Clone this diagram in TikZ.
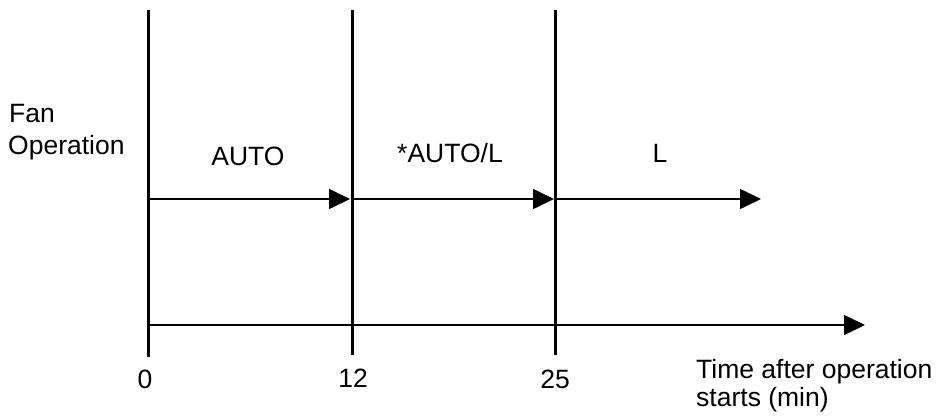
\documentclass[tikz,border=0pt]{standalone}
\usepackage{fontspec}
\setmainfont{Liberation Sans}
\usetikzlibrary{arrows.meta}
\begin{document}
\begin{tikzpicture}[x=1pt,y=-1pt,
  vline/.style={line width=3pt},
  harrow/.style={line width=1.6pt,-{Triangle[length=21pt,width=20pt]}},
  lbl/.style={font=\fontsize{26.5}{30}\selectfont,inner sep=0pt}]
\useasboundingbox (0,0) rectangle (937,416);
% vertical lines
\coordinate (v0t) at (148,10); \coordinate (v0b) at (148,357);
\coordinate (v1t) at (352,10); \coordinate (v1b) at (352,355);
\coordinate (v2t) at (555,10); \coordinate (v2b) at (555,355);
\draw[vline] (v0t) -- (v0b);
\draw[vline] (v1t) -- (v1b);
\draw[vline] (v2t) -- (v2b);
% operation arrows
\coordinate (a0) at (147,199); \coordinate (a1) at (350,199);
\coordinate (b0) at (353,199); \coordinate (b1) at (554,199);
\coordinate (c0) at (556,199); \coordinate (c1) at (761,199);
\draw[harrow] (a0) -- (a1);
\draw[harrow] (b0) -- (b1);
\draw[harrow] (c0) -- (c1);
% time axis
\coordinate (t0) at (147,325); \coordinate (t1) at (865,325);
\draw[harrow] (t0) -- (t1);
% labels
\node[lbl,anchor=base west] (fan1) at (9,122) {Fan};
\node[lbl,anchor=base west] (fan2) at (8,154) {Operation};
\node[lbl,anchor=base] (auto) at (248,165) {AUTO};
\node[lbl,anchor=base] (autol) at (450,162) {*AUTO/L};
\node[lbl,anchor=base] (l) at (660,162) {L};
\node[lbl,anchor=base] (n0) at (145,388) {0};
\node[lbl,anchor=base] (n12) at (353,387) {12};
\node[lbl,anchor=base] (n25) at (555,388) {25};
\node[lbl,anchor=base west] (time1) at (696,378) {Time after operation};
\node[lbl,anchor=base west] (time2) at (696,406) {starts (min)};
\end{tikzpicture}
\end{document}
